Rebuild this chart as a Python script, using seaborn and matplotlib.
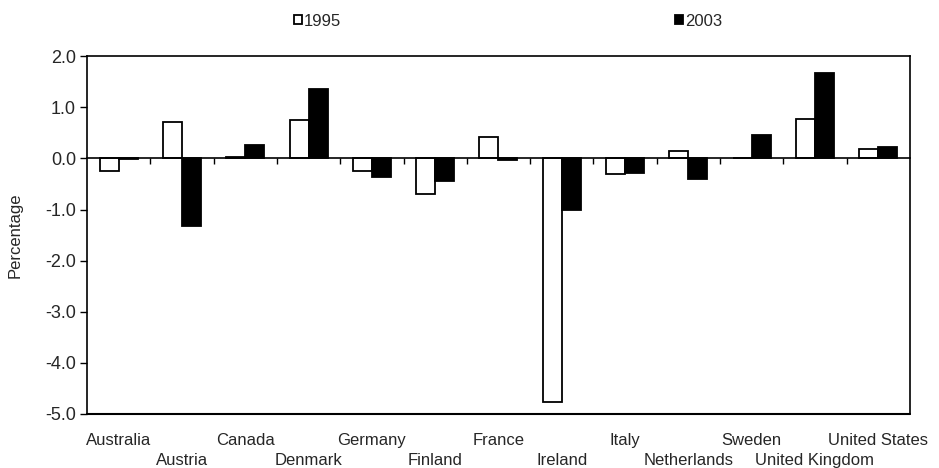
import pandas as pd
import seaborn as sns
import numpy as np
from matplotlib import pyplot as plt

sns.set_theme(style="white")
plt.rcParams['font.family'] = ['Liberation Sans', 'DejaVu Sans']
plt.rcParams['axes.unicode_minus'] = False

countries = ["Australia", "Austria", "Canada", "Denmark", "Germany", "Finland", "France",
             "Ireland", "Italy", "Netherlands", "Sweden", "United Kingdom", "United States"]
years = ["1995", "2003"]
vals_1995 = [-0.25, 0.72, 0.03, 0.76, -0.25, -0.69, 0.41, -4.76, -0.31, 0.15, 0.01, 0.78, 0.19]
vals_2003 = [-0.02, -1.33, 0.26, 1.35, -0.37, -0.44, -0.03, -1.01, -0.29, -0.40, 0.45, 1.67, 0.23]

df = pd.DataFrame({
  "country": countries * 2,
  "year": [years[0]] * len(countries) + [years[1]] * len(countries),
  "value": vals_1995 + vals_2003,
})

fs = 12
fig = plt.figure(figsize=(9.39, 4.68), dpi=100)
ax = fig.add_axes([0.0927, 0.1154, 0.969 - 0.0927, 0.880 - 0.1154])

sns.barplot(data=df, x="country", y="value", hue="year", order=countries,
            palette=["white", "black"], saturation=1, width=0.6,
            edgecolor="black", linewidth=1.3, ax=ax)

ax.set_ylim(-5, 2)
ax.set_xlim(-0.5, len(countries) - 0.5)
ax.set_yticks(np.arange(-5, 2.1, 1))
ax.set_yticklabels([f"{v:.1f}" for v in np.arange(-5, 2.1, 1)], fontsize=13)
ax.tick_params(axis="y", left=True, length=5, width=1, color="black", pad=3)
ax.set_ylabel("Percentage", fontsize=fs, labelpad=16)
ax.set_xlabel(None)

# x axis at zero, ticks between categories
ax.spines["bottom"].set_position(("data", 0))
ax.set_xticks(np.arange(0.5, len(countries) - 1, 1))
ax.set_xticklabels([])
ax.tick_params(axis="x", bottom=True, length=4, width=1, color="black", direction="out")
ax.axhline(-5, color="black", lw=1.5, clip_on=False, zorder=5)
for s in ax.spines.values():
  s.set_color("black")
  s.set_linewidth(1.2)

# staggered category labels
for i, c in enumerate(countries):
  y = -0.073 if i % 2 == 0 else -0.129
  ax.text(i, y, c, transform=ax.get_xaxis_transform(), ha="center", va="center", fontsize=fs)

handles, labels = ax.get_legend_handles_labels()
ax.get_legend().remove()
fig.legend(handles, labels, loc="center", bbox_to_anchor=(0.541, 0.955), ncol=2, frameon=False,
           fontsize=fs, handlelength=0.5, handleheight=0.5, handletextpad=0.1, columnspacing=20)

plt.savefig("out.png", dpi=100)
